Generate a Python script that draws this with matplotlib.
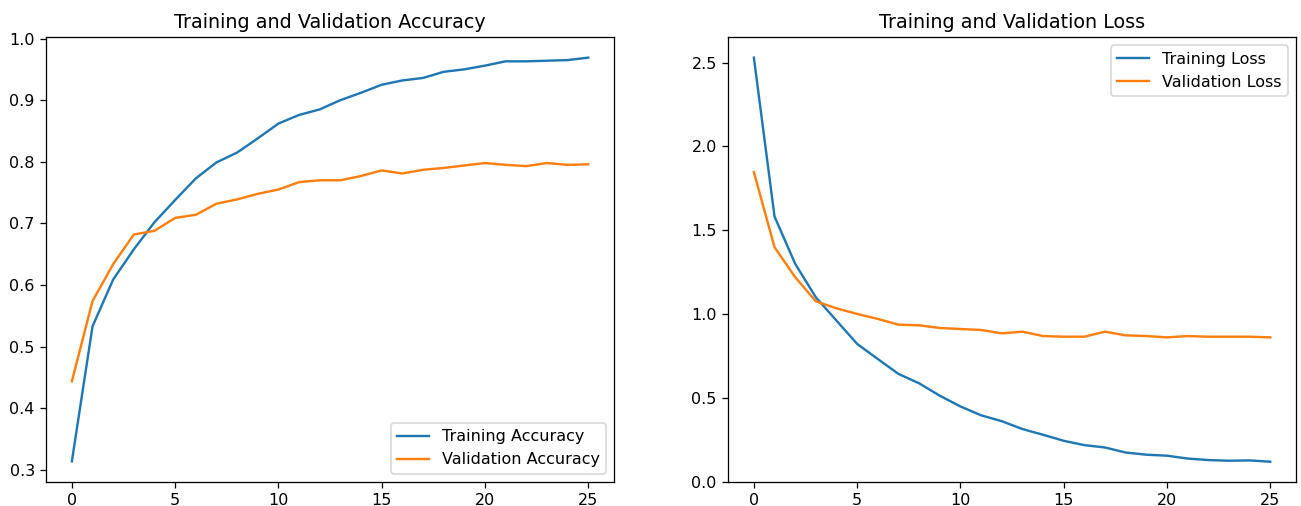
import numpy as np
import matplotlib
matplotlib.use("Agg")
import matplotlib.pyplot as plt

# history values
epochs = np.arange(26)

acc = [0.314, 0.533, 0.609, 0.658, 0.702, 0.738, 0.773, 0.799, 0.815, 0.838,
       0.862, 0.876, 0.885, 0.900, 0.912, 0.925, 0.932, 0.936, 0.946, 0.950,
       0.956, 0.963, 0.963, 0.964, 0.965, 0.969]
val_acc = [0.444, 0.574, 0.634, 0.682, 0.688, 0.709, 0.714, 0.732, 0.739, 0.748,
           0.755, 0.767, 0.770, 0.770, 0.777, 0.786, 0.781, 0.787, 0.790, 0.794,
           0.798, 0.795, 0.793, 0.798, 0.795, 0.796]

loss = [2.529, 1.581, 1.299, 1.099, 0.960, 0.821, 0.731, 0.642, 0.586, 0.512,
        0.448, 0.395, 0.360, 0.313, 0.279, 0.243, 0.217, 0.203, 0.173, 0.160,
        0.154, 0.137, 0.128, 0.124, 0.126, 0.118]
val_loss = [1.846, 1.398, 1.219, 1.075, 1.033, 1.000, 0.970, 0.936, 0.932, 0.916,
            0.910, 0.904, 0.884, 0.894, 0.868, 0.864, 0.864, 0.894, 0.872, 0.868,
            0.860, 0.868, 0.864, 0.864, 0.864, 0.860]

dpi = 115
fig = plt.figure(figsize=(1301 / dpi, 506 / dpi), dpi=dpi)
fig.subplots_adjust(left=0.0354, right=0.9962, top=0.926, bottom=0.0484, wspace=0.2007)

plt.subplot(1, 2, 1)
plt.plot(epochs, acc, label='Training Accuracy')
plt.plot(epochs, val_acc, label='Validation Accuracy')
plt.legend(loc='lower right')
plt.title('Training and Validation Accuracy')

plt.subplot(1, 2, 2)
plt.plot(epochs, loss, label='Training Loss')
plt.plot(epochs, val_loss, label='Validation Loss')
plt.legend(loc='upper right')
plt.ylim(bottom=0)
plt.title('Training and Validation Loss')

plt.savefig("out.png", dpi=dpi)
